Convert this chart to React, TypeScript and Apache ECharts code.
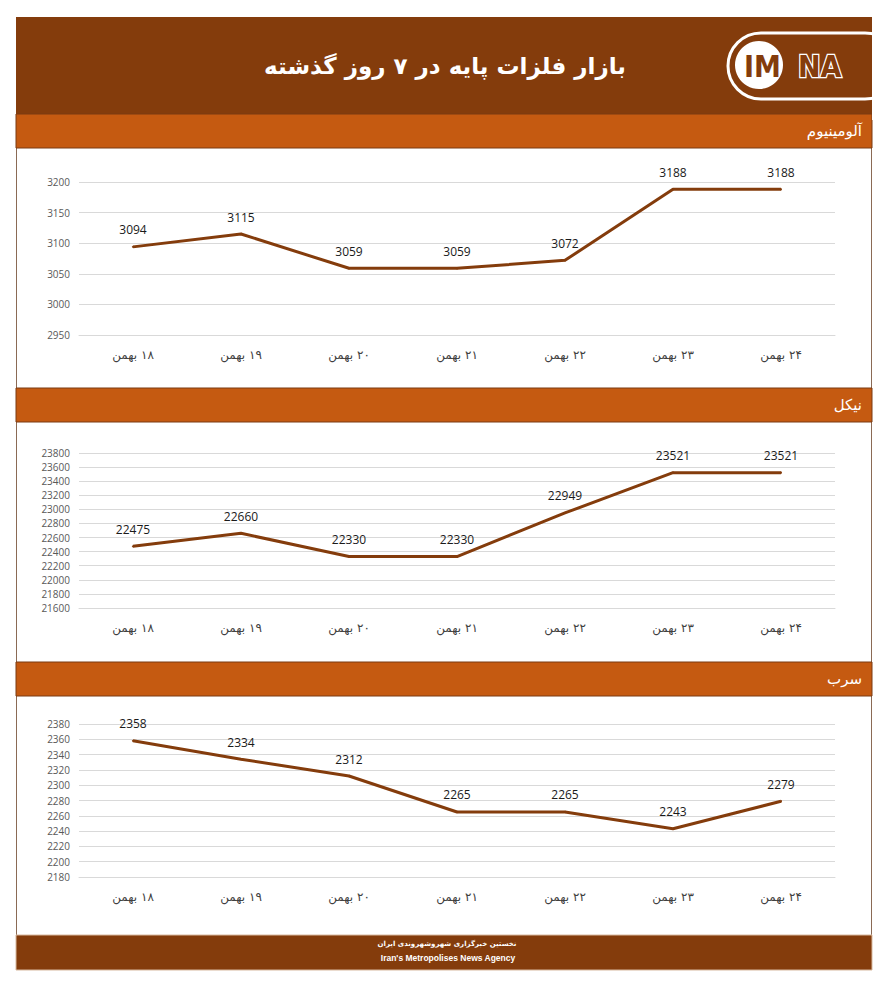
import React, { useEffect, useRef } from "react";
import * as echarts from "echarts";

const categories = ["۱۸ بهمن", "۱۹ بهمن", "۲۰ بهمن", "۲۱ بهمن", "۲۲ بهمن", "۲۳ بهمن", "۲۴ بهمن"];
const aluminium = [3094, 3115, 3059, 3059, 3072, 3188, 3188];
const nickel = [22475, 22660, 22330, 22330, 22949, 23521, 23521];
const lead = [2358, 2334, 2312, 2265, 2265, 2243, 2279];

const titleText = "بازار فلزات پایه در ۷ روز گذشته";
const sectionTitles = ["آلومینیوم", "نیکل", "سرب"];
const footerFa = "نخستین خبرگزاری شهروشهروندی ایران";
const footerEn = "Iran's Metropolises News Agency";

const axisRanges = [
  { min: 2950, max: 3200, interval: 50 },
  { min: 21600, max: 23800, interval: 200 },
  { min: 2180, max: 2380, interval: 20 },
];

const DARK = "#843C0C";
const ORANGE = "#C55A11";
const LINE = "#843C0C";
const NUM_FONT = "'Open Sans', 'DejaVu Sans', sans-serif";
const FA_FONT = "'DejaVu Sans', sans-serif";

export default function App() {
  const ref = useRef<HTMLDivElement>(null);
  useEffect(() => {
    document.body.style.margin = "0";
    const chart = echarts.init(ref.current!, undefined, { renderer: "svg" });
    const grids = [
      { left: 79, top: 182, width: 756, height: 153 },
      { left: 79, top: 453, width: 756, height: 155 },
      { left: 79, top: 724, width: 756, height: 153 },
    ];
    const seriesData = [aluminium, nickel, lead];
    const bandTops = [114, 388, 662];
    const labels = categories.map((c) => "\u200F" + c);

    const graphic: any[] = [
      { type: "rect", shape: { x: 16.5, y: 17.5, width: 855, height: 952 }, style: { fill: "#fff", stroke: "#8a6a55", lineWidth: 1 }, z: -10 },
      { type: "rect", shape: { x: 16, y: 17, width: 856, height: 97 }, style: { fill: DARK }, z: -5 },
      { type: "rect", shape: { x: 16, y: 935, width: 856, height: 35 }, style: { fill: DARK, stroke: "#d8b99f", lineWidth: 1 }, z: -5 },
      {
        type: "text", x: 445, y: 66, z: 5,
        style: { text: titleText, fill: "#fff", font: `bold 23px ${FA_FONT}`, textAlign: "center", textVerticalAlign: "middle" },
      },
      { type: "rect", shape: { x: 728, y: 33, width: 170, height: 66, r: 33 }, style: { fill: "none", stroke: "#fff", lineWidth: 3 }, z: 5 },
      { type: "rect", shape: { x: 872, y: 20, width: 20, height: 100 }, style: { fill: "#fff" }, z: 6 },
      { type: "circle", shape: { cx: 759, cy: 65, r: 24 }, style: { fill: "#fff" }, z: 5 },
      { type: "text", x: 744, y: 66, z: 7, style: { text: "IM", fill: DARK, font: `bold 30px 'DejaVu Sans Condensed', 'DejaVu Sans', sans-serif`, textAlign: "left", textVerticalAlign: "middle" } },
      { type: "text", x: 798, y: 66, z: 7, style: { text: "NA", fill: DARK, stroke: "#fff", lineWidth: 2.5, font: `bold 30px 'DejaVu Sans Condensed', 'DejaVu Sans', sans-serif`, textAlign: "left", textVerticalAlign: "middle" } },
      { type: "text", x: 447, y: 944, z: 5, style: { text: footerFa, fill: "#fff", font: `bold 7px ${FA_FONT}`, textAlign: "center", textVerticalAlign: "middle" } },
      { type: "text", x: 448, y: 958, z: 5, style: { text: footerEn, fill: "#fff", font: `bold 8.5px 'Liberation Sans', sans-serif`, textAlign: "center", textVerticalAlign: "middle" } },
    ];
    bandTops.forEach((t, i) => {
      graphic.push({ type: "rect", shape: { x: 16, y: t, width: 856, height: 34 }, style: { fill: ORANGE, stroke: "#7a3a12", lineWidth: 1 }, z: -4 });
      graphic.push({
        type: "text", x: 862, y: t + 17, z: 5,
        style: { text: sectionTitles[i], fill: "#fff", font: `15px ${FA_FONT}`, textAlign: "right", textVerticalAlign: "middle" },
      });
    });

    chart.setOption({
      animation: false,
      graphic,
      grid: grids,
      xAxis: grids.map((_, i) => ({
        type: "category",
        gridIndex: i,
        data: labels,
        boundaryGap: true,
        axisLine: { show: true, lineStyle: { color: "#d9d9d9" } },
        axisTick: { show: false },
        axisLabel: { color: "#404040", fontSize: 12, fontFamily: FA_FONT, margin: 14 },
      })),
      yAxis: grids.map((_, i) => ({
        type: "value",
        gridIndex: i,
        min: axisRanges[i].min,
        max: axisRanges[i].max,
        interval: axisRanges[i].interval,
        axisLine: { show: false },
        axisTick: { show: false },
        splitLine: { lineStyle: { color: "#d9d9d9", width: 1 } },
        axisLabel: { color: "#595959", fontSize: 10, fontFamily: NUM_FONT, margin: 9, formatter: (v: number) => String(v) },
      })),
      series: seriesData.map((d, i) => ({
        type: "line",
        xAxisIndex: i,
        yAxisIndex: i,
        data: d,
        symbol: "circle",
        symbolSize: 2,
        showSymbol: true,
        showAllSymbol: true,
        lineStyle: { color: LINE, width: 3 },
        itemStyle: { color: LINE },
        label: { show: true, position: "top", distance: 10, color: "#1a1a1a", fontSize: 12, fontFamily: NUM_FONT },
      })),
    });
    return () => chart.dispose();
  }, []);
  return <div ref={ref} style={{ width: 888, height: 1000 }} />;
}
